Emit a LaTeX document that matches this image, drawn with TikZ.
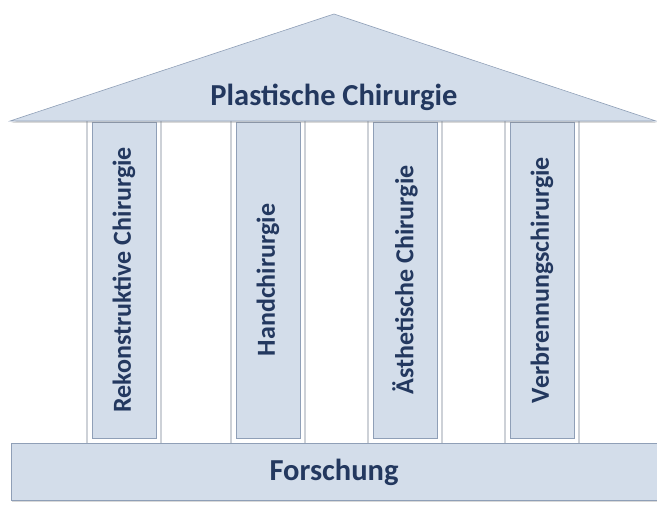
\documentclass[tikz,border=0pt]{standalone}
\usepackage{fontspec}
\setmainfont{Carlito}
\usetikzlibrary{shadows}
\definecolor{figFill}{HTML}{D3DDEA}
\definecolor{figEdge}{HTML}{8F9FB7}
\definecolor{figInk}{HTML}{23385F}
\definecolor{figFrame}{HTML}{CDD1D7}

\begin{document}
\begin{tikzpicture}[x=1pt,y=-1pt,
    pillar/.style={draw=figEdge,fill=figFill,line width=0.6pt,rotate=90,
      minimum width=316pt,minimum height=64pt,inner sep=0pt,text=figInk,
      font=\fontsize{26}{30}\selectfont\bfseries},
    slab/.style={draw=figEdge,fill=figFill,line width=0.6pt,
      drop shadow={opacity=0.3,shadow xshift=1pt,shadow yshift=-2pt}},
    title/.style={text=figInk,font=\fontsize{30.5}{34}\selectfont\bfseries}]
    \useasboundingbox (0,0) rectangle (657,505);
    % pillars with their faint outer frame
    \foreach \px/\pname/\ptext in {124/rek/Rekonstruktive Chirurgie,
                                   268/hand/Handchirurgie,
                                   405/aest/Ästhetische Chirurgie,
                                   542/verb/Verbrennungschirurgie}{
      \draw[figFrame,line width=1.2pt] (\px-37,118) rectangle (\px+37,444);
      \node[pillar] (\pname) at (\px,280) {\ptext};
    }
    % roof
    \draw[slab] (10,121) -- (334,14) -- (656,121) -- cycle;
    \node[title] (roof) at (334,97) {Plastische Chirurgie};
    % foundation
    \draw[slab] (11,443) rectangle (657,500);
    \node[title] (base) at (334,472) {Forschung};
\end{tikzpicture}
\end{document}
